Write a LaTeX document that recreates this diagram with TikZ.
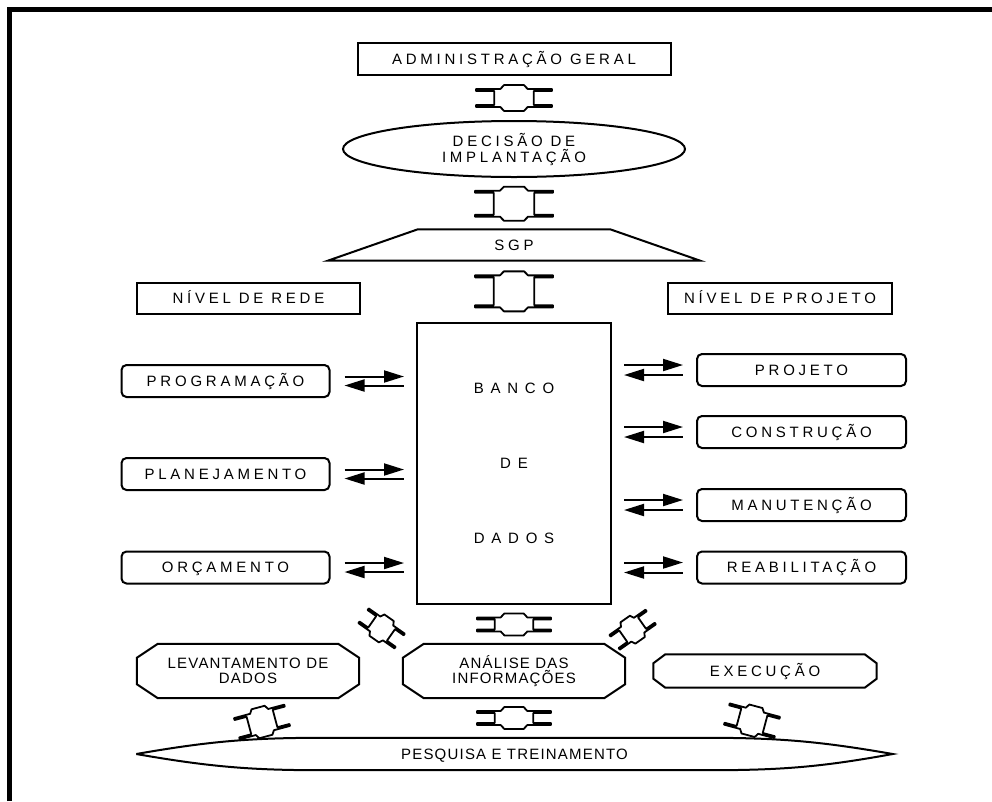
\documentclass[tikz,border=0pt]{standalone}
\usepackage{fontspec}
\setmainfont{Liberation Sans}
\newfontfamily\capsfont[LetterSpace=25]{Liberation Sans}
\newfontfamily\tightfont[LetterSpace=8]{Liberation Sans}
\newfontfamily\widefont[LetterSpace=45]{Liberation Sans}
\usetikzlibrary{arrows.meta,shapes.geometric,calc}
\tikzstyle{txt}=[inner sep=0pt,align=center,font=\capsfont\fontsize{15}{16}\selectfont]
\tikzstyle{oneline}=[text height=10.7pt,text depth=0pt]
\tikzstyle{sqbox}=[txt,oneline,draw,line width=2pt]
\tikzstyle{rbox}=[sqbox,rounded corners=5pt,minimum width=208pt,minimum height=32pt]
\tikzstyle{outline}=[draw,line width=2pt,line join=miter]
\tikzstyle{flow}=[line width=2pt]
\tikzstyle{beam}=[draw,line width=1.8pt,fill=white,line join=round]
\tikzset{pics/ibeam/.style 2 args={code={
  \draw[beam] (-#2,-#1+4) -- (-0.36*#2,-#1+4) -- (-0.26*#2,-#1) -- (0.26*#2,-#1) -- (0.36*#2,-#1+4) -- (#2,-#1+4)
     -- (#2,-#1+6) -- (0.52*#2,-#1+6) -- (0.52*#2,#1-6) -- (#2,#1-6) -- (#2,#1-4) -- (0.36*#2,#1-4)
     -- (0.26*#2,#1) -- (-0.26*#2,#1) -- (-0.36*#2,#1-4) -- (-#2,#1-4) -- (-#2,#1-6) -- (-0.52*#2,#1-6)
     -- (-0.52*#2,-#1+6) -- (-#2,-#1+6) -- cycle;
}}}
\begin{document}
\begin{tikzpicture}[x=1pt,y=-1pt,>={Triangle[length=20pt,width=12pt]}]
  \useasboundingbox (0,0) rectangle (992,801);
  \def\mx{514};
  \def\lx{225.5};
  \def\rx{801.5};

% frame
  \draw[line width=5pt] (9.5,801) -- (9.5,9.5) -- (992,9.5);

% top column
  \node[sqbox,minimum width=313pt,minimum height=32pt] (adm) at (\mx,59) {ADMINISTRAÇÃO GERAL};
  \node[txt,ellipse,draw,line width=2pt,minimum width=342pt,minimum height=56pt] (dec) at (\mx,149) {DECISÃO DE\\IMPLANTAÇÃO};
  \node[txt,oneline,minimum width=372pt,minimum height=31pt] (sgp) at (\mx,245) {SGP};
  \draw[outline] (sgp.south west) -- ($(sgp.north west)+(90,0)$) -- ($(sgp.north east)+(-90,0)$) -- (sgp.south east) -- cycle;

  \node[sqbox,minimum width=223pt,minimum height=31pt] (nrede) at (248.5,298.5) {NÍVEL DE REDE};
  \node[sqbox,minimum width=224pt,minimum height=31pt] (nproj) at (780,298.5) {NÍVEL DE PROJETO};

  \node[draw,line width=2pt,inner sep=0pt,align=center,minimum width=194pt,minimum height=281pt,
        font=\widefont\fontsize{15}{15}\selectfont] (banco) at (\mx,463.5) {BANCO\\[60pt]DE\\[60pt]DADOS};

% left side
  \foreach \pos/\name/\txt in {{(\lx,381)/prog/PROGRAMAÇÃO},{(\lx,474)/plan/PLANEJAMENTO},{(\lx,567.5)/orc/ORÇAMENTO}}
    \node[rbox] (\name) at \pos {\txt};
% right side
  \foreach \pos/\name/\txt in {{(\rx,370)/proj/PROJETO},{(\rx,432)/cons/CONSTRUÇÃO},{(\rx,505)/manu/MANUTENÇÃO},{(\rx,567.5)/reab/REABILITAÇÃO}}
    \node[rbox,minimum width=209pt] (\name) at \pos {\txt};

  \foreach \n in {prog,plan,orc}{
    \draw[flow,->] ($(\n.east)+(14,-4.5)$) -- ($(\n.east -| banco.west)+(-12,-4.5)$);
    \draw[flow,<-] ($(\n.east)+(14,4.5)$) -- ($(\n.east -| banco.west)+(-12,4.5)$);
  }
  \foreach \n in {proj,cons,manu,reab}{
    \draw[flow,->] ($(\n.west -| banco.east)+(12,-5)$) -- ($(\n.west)+(-13,-5)$);
    \draw[flow,<-] ($(\n.west -| banco.east)+(12,5)$) -- ($(\n.west)+(-13,5)$);
  }

% bottom row
  \node[txt,font=\tightfont\fontsize{15}{15}\selectfont,minimum width=222pt,minimum height=54pt] (lev) at (248,671) {LEVANTAMENTO DE\\DADOS};
  \node[txt,font=\tightfont\fontsize{15}{15}\selectfont,minimum width=222pt,minimum height=54pt] (ana) at (\mx,671) {ANÁLISE DAS\\INFORMAÇÕES};
  \node[txt,oneline,minimum width=223pt,minimum height=33pt] (exe) at (765,671) {EXECUÇÃO};
  \foreach \n/\cx/\cy in {lev/21/14, ana/21/14, exe/12/9}
    \draw[outline] ($(\n.north west)+(\cx,0)$) -- ($(\n.north east)+(-\cx,0)$) -- ($(\n.north east)+(0,\cy)$)
      -- ($(\n.south east)+(0,-\cy)$) -- ($(\n.south east)+(-\cx,0)$) -- ($(\n.south west)+(\cx,0)$)
      -- ($(\n.south west)+(0,-\cy)$) -- ($(\n.north west)+(0,\cy)$) -- cycle;

  \node[txt,font=\tightfont\fontsize{15}{15}\selectfont,oneline,minimum width=756pt,minimum height=32pt] (pes) at (514.5,754) {PESQUISA E TREINAMENTO};
  \draw[outline] (pes.west) to[bend left=5] ($(pes.north west)+(188,0)$) -- ($(pes.north east)+(-188,0)$)
    to[bend left=5] (pes.east) to[bend left=5] ($(pes.south east)+(-175,0)$) -- ($(pes.south west)+(188,0)$)
    to[bend left=5] (pes.west);

% block arrows
  \pic at ($(adm.south)!0.5!(dec.north)$) {ibeam={13}{38}};
  \pic at ($(dec.south)!0.5!(sgp.north)$) {ibeam={17}{39}};
  \pic at ($(sgp.south)!0.5!(banco.north)$) {ibeam={20}{39}};
  \pic at ($(banco.south)!0.5!(ana.north)$) {ibeam={11}{37}};
  \pic at ($(ana.south)!0.5!(ana.south |- pes.north)$) {ibeam={11}{37}};
  \pic[rotate=-35] at ($(banco.south west)!0.5!(lev.north east)+(-6,4)$) {ibeam={13}{22}};
  \pic[rotate=35] at ($(banco.south east)!0.5!(exe.north west)$) {ibeam={13}{22}};
  \pic[rotate=15] at ($(lev.south)!0.5!(lev.south |- pes.north)+(14,4)$) {ibeam={15}{26}};
  \pic[rotate=-15] at ($(exe.south)!0.5!(exe.south |- pes.north)+(-13,8)$) {ibeam={15}{26}};
\end{tikzpicture}
\end{document}
